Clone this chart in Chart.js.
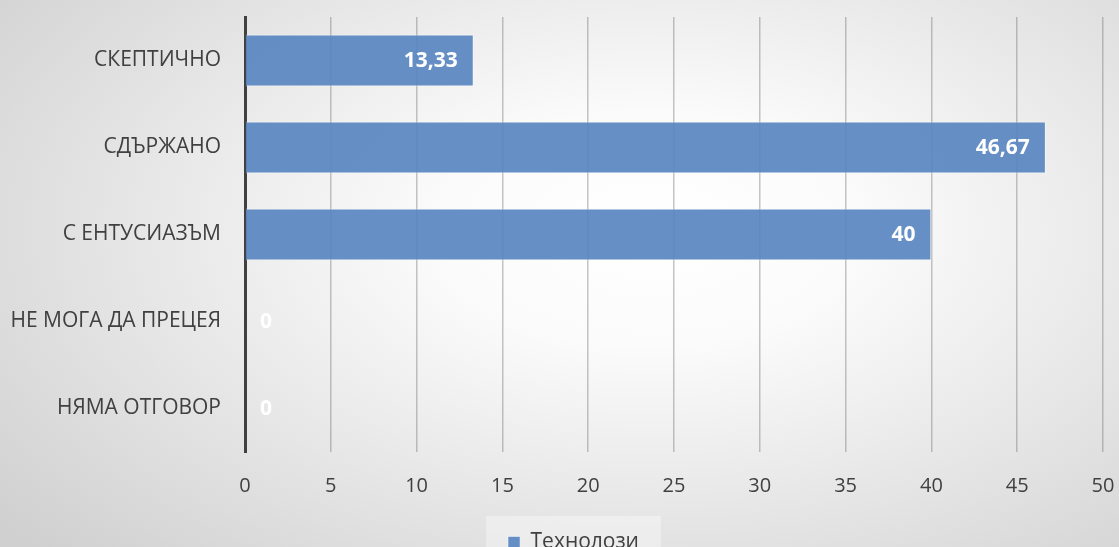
<!DOCTYPE html>
<html lang="bg">
<head>
<meta charset="utf-8">
<title>Технолози</title>
<script src="https://cdn.jsdelivr.net/npm/chart.js@4.4.1/dist/chart.umd.min.js"></script>
<style>
  html, body { margin: 0; padding: 0; }
  body {
    width: 1119px; height: 547px; overflow: hidden;
    background: radial-gradient(ellipse 75% 85% at 58% 42%, #ffffff 0%, #fbfbfb 25%, #d0d0d0 100%);
  }
  #wrap { position: relative; width: 1119px; height: 547px; }
</style>
</head>
<body>
<div id="wrap"><canvas id="chart"></canvas></div>
<script>
// Данни
const categories = ['СКЕПТИЧНО', 'СДЪРЖАНО', 'С ЕНТУСИАЗЪМ', 'НЕ МОГА ДА ПРЕЦЕЯ', 'НЯМА ОТГОВОР'];
const values = [13.33, 46.67, 40, 0, 0];
const seriesName = 'Технолози';
const xTicks = [0, 5, 10, 15, 20, 25, 30, 35, 40, 45, 50];

const fontFamily = '"Open Sans", "Noto Sans", sans-serif';

// легендата е малко вдясно от центъра, със светъл фон
const legendBg = {
    id: 'legendBg',
    afterLayout(chart) {
        const lg = chart.legend;
        if (!lg) return;
        lg.left += 22;
        lg.right += 22;
    },
    beforeDraw(chart) {
        const lg = chart.legend;
        if (!lg || !lg.legendHitBoxes.length) return;
        const hb = lg.legendHitBoxes[0];
        const ctx = chart.ctx;
        ctx.save();
        ctx.fillStyle = 'rgba(255,255,255,0.35)';
        ctx.fillRect(hb.left - 22, hb.top - 16, hb.width + 44, 60);
        ctx.restore();
    }
};

// етикети със стойностите вътре в края на лентата
const valueLabels = {
    id: 'valueLabels',
    afterDatasetsDraw(chart) {
        const ctx = chart.ctx;
        const meta = chart.getDatasetMeta(0);
        ctx.save();
        ctx.font = 'bold 21px ' + fontFamily;
        ctx.fillStyle = '#ffffff';
        ctx.textBaseline = 'middle';
        meta.data.forEach((bar, i) => {
            const v = values[i];
            const txt = String(v).replace('.', ',');
            if (v === 0) {
                ctx.textAlign = 'left';
                ctx.fillText(txt, bar.base + 15, bar.y + 1);
            } else {
                ctx.textAlign = 'right';
                ctx.fillText(txt, bar.x - 16, bar.y + 1);
            }
        });
        ctx.restore();
    }
};

const ctx = document.getElementById('chart').getContext('2d');
new Chart(ctx, {
    type: 'bar',
    data: {
        labels: categories,
        datasets: [{
            label: seriesName,
            data: values,
            backgroundColor: 'rgba(88,134,192,0.92)',
            borderColor: 'rgba(255,255,255,0.45)',
            borderWidth: 1,
            barPercentage: 0.6,
            categoryPercentage: 1
        }]
    },
    options: {
        indexAxis: 'y',
        responsive: true,
        maintainAspectRatio: false,
        animation: false,
        layout: { padding: { top: 17, right: 16, left: 0, bottom: -16 } },
        scales: {
            x: {
                min: 0,
                max: 50,
                afterBuildTicks: (axis) => { axis.ticks = xTicks.map(v => ({ value: v })); },
                afterFit: (axis) => { axis.paddingLeft = 0; axis.paddingRight = 0; },
                grid: { color: 'rgba(110,110,110,0.4)', lineWidth: 1.5, drawTicks: false },
                border: { display: false },
                ticks: { color: '#404040', font: { family: fontFamily, size: 20 }, padding: 22 }
            },
            y: {
                afterFit: (axis) => { axis.width = 245; axis.paddingTop = 0; axis.paddingBottom = 0; },
                grid: { display: false, drawTicks: false },
                border: { color: '#404040', width: 3 },
                ticks: { color: '#404040', font: { family: fontFamily, size: 21 }, padding: 24 }
            }
        },
        plugins: {
            legend: {
                position: 'bottom',
                labels: {
                    color: '#404040',
                    font: { family: fontFamily, size: 21 },
                    boxWidth: 12,
                    boxHeight: 12,
                    padding: 12
                }
            },
            tooltip: { enabled: false }
        }
    },
    plugins: [legendBg, valueLabels]
});
</script>
</body>
</html>
